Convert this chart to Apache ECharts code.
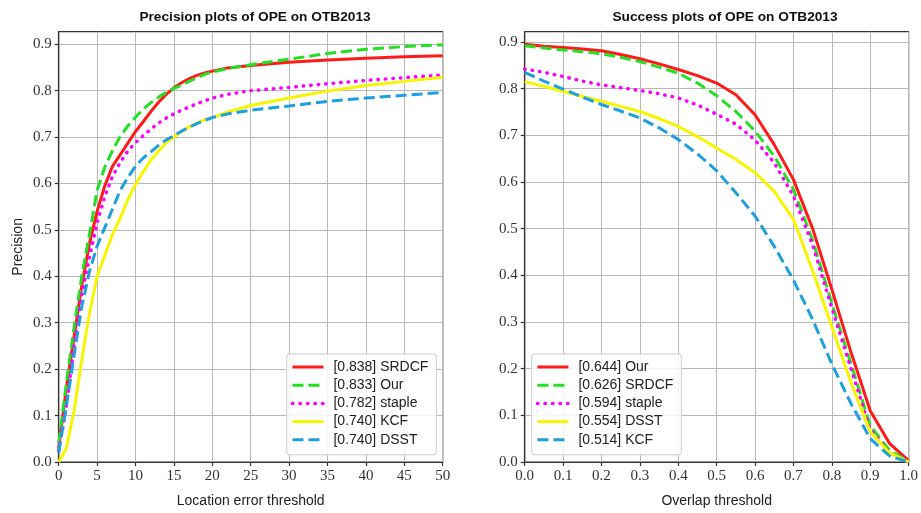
<!DOCTYPE html>
<html>
<head>
<meta charset="utf-8">
<script src="https://cdn.jsdelivr.net/npm/echarts@6/dist/echarts.min.js"></script>
<style>
  html, body { margin: 0; padding: 0; background: #ffffff; }
  #chart { width: 921px; height: 513px; }
</style>
</head>
<body>
<div id="chart"></div>
<script>
// ---------- Data: precision plot (left) ----------
const precX = [0,1,2,3,4,5,6,7,8,9,10,11,12,13,14,15,16,17,18,19,20,22,25,30,35,40,45,50];
const precSRDCF = [0.03,0.16,0.27,0.38,0.47,0.54,0.595,0.637,0.662,0.687,0.712,0.733,0.755,0.775,0.792,0.806,0.817,0.826,0.833,0.838,0.842,0.849,0.854,0.861,0.866,0.870,0.873,0.875];
const precOur   = [0.04,0.17,0.29,0.40,0.49,0.585,0.635,0.671,0.701,0.724,0.743,0.760,0.774,0.786,0.796,0.805,0.812,0.820,0.828,0.835,0.840,0.848,0.856,0.868,0.880,0.889,0.895,0.899];
const precStaple= [0.025,0.12,0.25,0.36,0.44,0.515,0.572,0.615,0.645,0.670,0.688,0.703,0.717,0.730,0.741,0.750,0.758,0.765,0.772,0.778,0.784,0.792,0.800,0.807,0.815,0.822,0.828,0.834];
const precKCF   = [0.0,0.03,0.11,0.22,0.32,0.40,0.445,0.49,0.525,0.565,0.598,0.625,0.650,0.670,0.688,0.700,0.712,0.722,0.730,0.737,0.742,0.754,0.768,0.784,0.799,0.811,0.820,0.829];
const precDSST  = [0.02,0.12,0.23,0.335,0.41,0.465,0.505,0.545,0.585,0.613,0.637,0.655,0.668,0.682,0.694,0.703,0.713,0.721,0.729,0.736,0.742,0.750,0.758,0.767,0.777,0.784,0.790,0.796];
const precNames = ['[0.838] SRDCF', '[0.833] Our', '[0.782] staple', '[0.740] KCF', '[0.740] DSST'];

// ---------- Data: success plot (right) ----------
const succX = [0,0.05,0.1,0.15,0.2,0.25,0.3,0.35,0.4,0.45,0.5,0.55,0.6,0.65,0.7,0.75,0.8,0.85,0.9,0.95,1.0];
const succOur   = [0.895,0.891,0.888,0.885,0.881,0.873,0.864,0.853,0.841,0.828,0.812,0.787,0.744,0.680,0.605,0.500,0.370,0.235,0.110,0.040,0.003];
const succSRDCF = [0.892,0.887,0.883,0.879,0.875,0.867,0.858,0.846,0.833,0.812,0.785,0.751,0.709,0.655,0.584,0.475,0.340,0.210,0.078,0.025,0.002];
const succStaple= [0.842,0.835,0.826,0.816,0.808,0.802,0.796,0.789,0.780,0.765,0.745,0.724,0.690,0.641,0.570,0.465,0.330,0.200,0.070,0.020,0.0];
const succDSST  = [0.815,0.805,0.794,0.783,0.773,0.762,0.751,0.736,0.719,0.697,0.673,0.648,0.620,0.580,0.520,0.410,0.290,0.170,0.065,0.020,0.0];
const succKCF   = [0.835,0.816,0.799,0.782,0.766,0.752,0.737,0.716,0.691,0.660,0.624,0.577,0.527,0.462,0.390,0.305,0.210,0.125,0.050,0.013,0.0];
const succNames = ['[0.644] Our', '[0.626] SRDCF', '[0.594] staple', '[0.554] DSST', '[0.514] KCF'];

const yTicks = [0,0.1,0.2,0.3,0.4,0.5,0.6,0.7,0.8,0.9];

// ---------- Styles ----------
const RED = '#ff1a1a', GREEN = '#22e022', MAGENTA = '#ff00ff', YELLOW = '#f8f500', BLUE = '#1e9fe0';
const solid = (c) => ({ color: c, width: 3, type: 'solid' });
const dashed = (c) => ({ color: c, width: 3, type: [11, 5], cap: 'butt' });
const dotted = (c) => ({ color: c, width: 3.5, type: [0.5, 7], cap: 'round' });

function pairs(xs, ys) { return xs.map((x, i) => [x, ys[i]]); }

function mkSeries(name, xs, ys, ls, idx) {
  return {
    name: name, type: 'line', xAxisIndex: idx, yAxisIndex: idx,
    data: pairs(xs, ys), symbol: 'none', smooth: false,
    lineStyle: ls, itemStyle: { color: ls.color }, z: 3
  };
}

const tickFont = { fontFamily: 'Liberation Serif', fontSize: 15, color: '#333' };
const axisLineStyle = { color: '#333', width: 1.2 };
const gridLine = { show: true, lineStyle: { color: '#b8b8b8', width: 1 } };

function yAxisCfg(idx, max, name) {
  return {
    type: 'value', gridIndex: idx, min: 0, max: max, interval: 0.1,
    name: name, nameLocation: 'middle', nameGap: 34,
    nameTextStyle: { fontFamily: 'Liberation Sans', fontSize: 14, color: '#222' },
    axisLine: { show: true, lineStyle: axisLineStyle },
    axisTick: { show: true, inside: false, length: 4, lineStyle: axisLineStyle, customValues: yTicks },
    axisLabel: Object.assign({ margin: 7, customValues: yTicks, formatter: v => v.toFixed(1) }, tickFont),
    splitLine: gridLine
  };
}

function xAxisCfg(idx, max, interval, name, fmt) {
  return {
    type: 'value', gridIndex: idx, min: 0, max: max, interval: interval,
    name: name, nameLocation: 'middle', nameGap: 32,
    nameTextStyle: { fontFamily: 'Liberation Sans', fontSize: 14, color: '#222' },
    axisLine: { show: true, onZero: false, lineStyle: axisLineStyle },
    axisTick: { show: true, inside: false, length: 4, lineStyle: axisLineStyle },
    axisLabel: Object.assign({ margin: 7, formatter: fmt }, tickFont),
    splitLine: gridLine
  };
}

function legendCfg(names, left, styles) {
  return {
    orient: 'vertical', left: left, top: 354,
    data: names.map((n, i) => ({ name: n, lineStyle: { width: styles[i].width } })),
    itemWidth: 31, itemHeight: 14, itemGap: 4.2,
    padding: [6, 8, 8, 4],
    backgroundColor: 'rgba(255,255,255,0.85)',
    borderColor: '#cccccc', borderWidth: 1, borderRadius: 3,
    itemStyle: { opacity: 0 },
    textStyle: { fontFamily: 'Liberation Sans', fontSize: 14, color: '#222', padding: [0, 0, 0, 5] },
    selectedMode: false
  };
}

const precStyles = [solid(RED), dashed(GREEN), dotted(MAGENTA), solid(YELLOW), dashed(BLUE)];
const precData = [precSRDCF, precOur, precStaple, precKCF, precDSST];
const succStyles = [solid(RED), dashed(GREEN), dotted(MAGENTA), solid(YELLOW), dashed(BLUE)];
const succData = [succOur, succSRDCF, succStaple, succDSST, succKCF];

const series = [];
precNames.forEach((n, i) => series.push(mkSeries(n, precX, precData[i], precStyles[i], 0)));
succNames.forEach((n, i) => series.push(mkSeries(n, succX, succData[i], succStyles[i], 1)));

const titleStyle = { fontFamily: 'Liberation Sans', fontSize: 13.7, fontWeight: 'bold', color: '#111' };
const chart = echarts.init(document.getElementById('chart'), null, { renderer: 'canvas' });
chart.setOption({
  animation: false,
  backgroundColor: '#ffffff',
  title: [
    { text: 'Precision plots of OPE on OTB2013', left: 250, top: 5, textAlign: 'center', textStyle: titleStyle },
    { text: 'Success plots of OPE on OTB2013', left: 720, top: 5, textAlign: 'center', textStyle: titleStyle }
  ],
  grid: [
    { left: 58.7, top: 31.7, width: 384, height: 431.6, show: true, borderColor: '#333', borderWidth: 1.2, backgroundColor: 'transparent' },
    { left: 524.7, top: 31.7, width: 385.5, height: 431.6, show: true, borderColor: '#333', borderWidth: 1.2, backgroundColor: 'transparent' }
  ],
  xAxis: [
    xAxisCfg(0, 50, 5, 'Location error threshold', v => String(v)),
    xAxisCfg(1, 1, 0.1, 'Overlap threshold', v => v.toFixed(1))
  ],
  yAxis: [
    yAxisCfg(0, 0.927, 'Precision'),
    yAxisCfg(1, 0.922, '')
  ],
  legend: [
    legendCfg(precNames, 286.7, precStyles),
    legendCfg(succNames, 531.7, succStyles)
  ],
  series: series
});
</script>
</body>
</html>
